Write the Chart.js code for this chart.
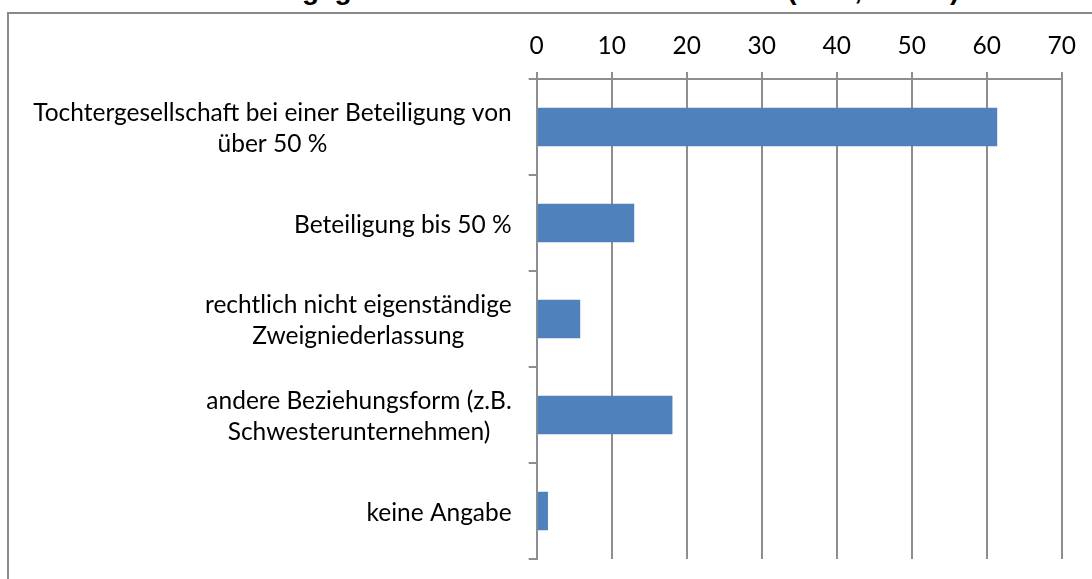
<!DOCTYPE html>
<html><head><meta charset="utf-8">
<script src="https://cdn.jsdelivr.net/npm/chart.js@4"></script>
<style>
html,body{margin:0;padding:0;background:#fff;overflow:hidden}
#wrap{position:relative;width:1092px;height:579px;overflow:hidden;background:#fff}
#frame{position:absolute;left:7px;top:12px;width:1200px;height:700px;border:2px solid #8a8a8a;box-sizing:border-box}
#title{position:absolute;left:40px;top:-24px;font:bold 28px "Liberation Sans",Arial,sans-serif;white-space:nowrap;color:#000;line-height:28px}
canvas{position:absolute;left:0;top:0}
</style></head><body>
<div id="wrap">
<div id="title">Art des Auslandsengagements deutscher Unternehmen (in %, n=120)</div>
<div id="frame"></div>
<canvas id="c" width="1092" height="579"></canvas>
</div>
<script>
const categories = [
  ["Tochtergesellschaft bei einer Beteiligung von", "über 50 %"],
  ["Beteiligung bis 50 %"],
  ["rechtlich nicht eigenständige", "Zweigniederlassung"],
  ["andere Beziehungsform (z.B.", "Schwesterunternehmen)"],
  ["keine Angabe"]
];
const values = [61.4, 13.0, 5.8, 18.1, 1.5];
const xTickValues = [0, 10, 20, 30, 40, 50, 60, 70];

const FONT = 'Lato, "Open Sans", sans-serif';
const GRID = '#8e8e8e';

function build() {
  const mctx = document.createElement('canvas').getContext('2d');
  mctx.font = '100px ' + FONT;
  const w100 = mctx.measureText(categories[0][0]).width;
  const fs = Math.round(100 * 479 / w100 * 10) / 10;
  const LH = 31;

  const labelPlugin = {
    id: 'catLabels',
    afterDraw(chart) {
      const ys = chart.scales.y, ctx = chart.ctx;
      ctx.save();
      ctx.font = fs + 'px ' + FONT;
      ctx.fillStyle = '#000';
      ctx.textAlign = 'center';
      ctx.textBaseline = 'middle';
      const right = ys.right - 25;
      categories.forEach((lines, i) => {
        const cy = ys.getPixelForValue(i);
        const w = Math.max(...lines.map(l => ctx.measureText(l).width));
        const cx = right - w / 2;
        lines.forEach((l, j) => ctx.fillText(l, cx, cy + (j - (lines.length - 1) / 2) * LH + 2));
      });
      ctx.restore();
    }
  };

  new Chart(document.getElementById('c'), {
    type: 'bar',
    data: {
      labels: categories,
      datasets: [{ data: values, backgroundColor: '#4f81bd', borderWidth: 0, barPercentage: 0.4, categoryPercentage: 1 }]
    },
    options: {
      indexAxis: 'y',
      responsive: false,
      animation: false,
      devicePixelRatio: 1,
      layout: { padding: { left: 0, top: 0, right: 30.3, bottom: 20 } },
      plugins: { legend: { display: false }, tooltip: { enabled: false }, title: { display: false } },
      scales: {
        x: {
          position: 'top',
          min: 0, max: 70,
          afterBuildTicks(s) { s.ticks = xTickValues.map(v => ({ value: v })); },
          afterFit(s) { s.height = 79; },
          ticks: { color: '#000', font: { family: FONT, size: fs }, padding: 11, maxRotation: 0 },
          grid: { color: GRID, lineWidth: 2, tickLength: 7, drawTicks: true },
          border: { color: GRID, width: 2 }
        },
        y: {
          afterFit(s) { s.width = 536.7; },
          ticks: { display: false },
          grid: { drawOnChartArea: false, drawTicks: true, tickLength: 8, color: GRID, lineWidth: 2, offset: true },
          border: { color: GRID, width: 2 }
        }
      }
    },
    plugins: [labelPlugin]
  });
}
if (document.fonts && document.fonts.load) {
  document.fonts.load('20px Lato').then(build, build);
} else build();
</script>
</body></html>
